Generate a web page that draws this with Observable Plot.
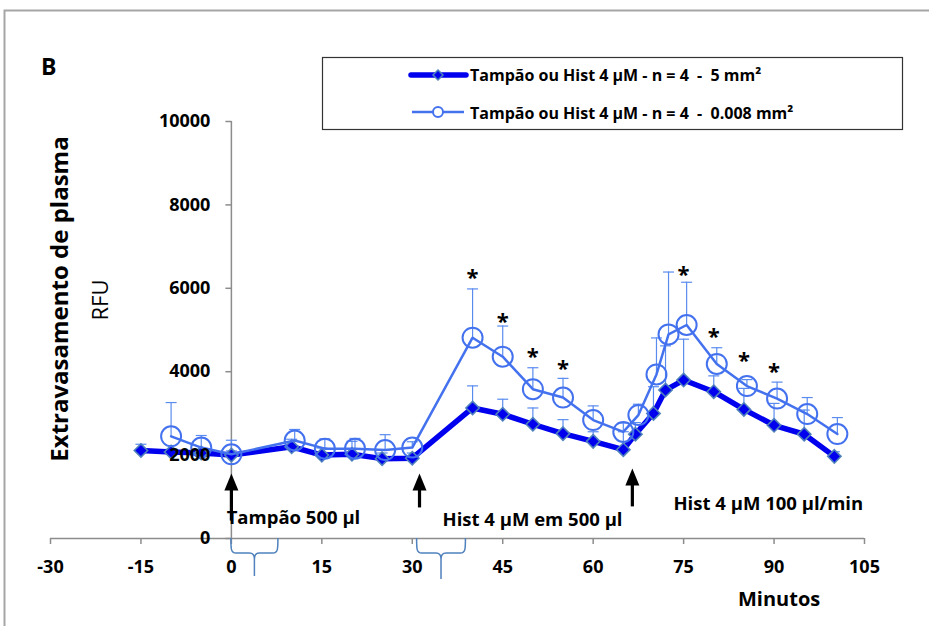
<!DOCTYPE html>
<html><head><meta charset="utf-8">
<script src="https://cdn.jsdelivr.net/npm/d3@7"></script>
<script src="https://cdn.jsdelivr.net/npm/@observablehq/plot@0.6"></script>
<style>
html,body{margin:0;padding:0;background:#fff;}
#chart{position:relative;width:929px;height:626px;overflow:hidden;background:#fff;}
text{white-space:pre;}
</style></head><body><div id="chart"></div>
<script>
// ---- data ----
const seriesNames = ["Tampão ou Hist 4 µM - n = 4  -  5 mm²", "Tampão ou Hist 4 µM - n = 4  -  0.008 mm²"];
const darkMin = [-15,-10,-5,0,10,15,20,25,30,40,45,50,55,60,65,67,70,72,75,80,85,90,95,100];
const darkRFU = [2110,2075,2050,2000,2200,2000,2020,1915,1925,3130,2980,2740,2515,2330,2130,2500,3000,3560,3800,3520,3095,2715,2500,1970];
const darkErr = [2260,2140,2120,2100,2380,2170,2330,2050,2050,3660,3340,3130,2850,2560,2560,2780,3640,4620,4780,3900,3600,3240,3080,2080];
const lightMin = [-10,-5,0,10.5,15.5,20.5,25.5,30,40,45,50,55,60,65,67.5,70.5,72.5,75.5,80.5,85.5,90.5,95.5,100.5];
const lightRFU = [2450,2180,2020,2350,2155,2155,2120,2180,4815,4360,3580,3380,2840,2555,2960,3935,4895,5120,4185,3655,3355,2985,2505];
const lightErr = [3260,2470,2356,2615,2390,2400,2490,2320,5985,5095,4095,3840,3180,2770,3220,4810,6390,6145,4575,3810,3750,3380,2900];
const starMin = [40,45,50,55,75,80,85,90];
const starRFU = [6390,5340,4500,4210,6470,4980,4400,4130];
const xTicks = [-30,-15,0,15,30,45,60,75,90,105];
const yTicks = [0,2000,4000,6000,8000,10000];
const arrowMin = [0,31.2,66.5];
const arrowTipRFU = [1560,1560,1680];
const arrowBaseRFU = [430,745,770];
const noteText = ["Tampão 500 µl","Hist 4 µM em 500 µl","Hist 4 µM 100 µl/min"];
const noteMin = [-0.7,35.1,73.4];
const noteRFU = [345,288,664];
const braceFrom = [0,30.8];
const braceTo = [7.8,38.9];

// ---- tables ----
const dark = darkMin.map((t,i)=>({t, v:darkRFU[i], top:darkErr[i]}));
const light = lightMin.map((t,i)=>({t, v:lightRFU[i], top:lightErr[i]}));
const stars = starMin.map((t,i)=>({t, v:starRFU[i]}));
const arrows = arrowMin.map((t,i)=>({t, tip:arrowTipRFU[i], base:arrowBaseRFU[i]}));

const DARK = "#0000ee", DARK_EDGE = "#4f81bd", LIGHT = "#4472ee", ERR = "#5a8cf0", AXIS = "#8c8c8c";
const FONT = "'Open Sans', sans-serif";

const capSym = {draw(ctx){ ctx.moveTo(-5.5,0); ctx.lineTo(5.5,0); }};
const yTickSym = {draw(ctx){ ctx.moveTo(-6,0); ctx.lineTo(0,0); }};
const headSym = {draw(ctx){ ctx.moveTo(0,0); ctx.lineTo(7,17); ctx.lineTo(-7,17); ctx.closePath(); }};

const plot = Plot.plot({
  width: 929, height: 626,
  marginLeft: 50, marginRight: 65, marginTop: 121, marginBottom: 88,
  x: {domain: [-30,105], axis: null},
  y: {domain: [0,10000], axis: null},
  style: {fontFamily: FONT, background: "transparent", overflow: "visible"},
  marks: [
    Plot.ruleY([0], {stroke: AXIS, strokeWidth: 1.5}),
    Plot.ruleX([0], {y1: 0, y2: 10000, stroke: AXIS, strokeWidth: 1.5}),
    Plot.axisX({ticks: xTicks, tickSize: 6, tickPadding: 16, tickFormat: d => String(d),
      stroke: AXIS, strokeWidth: 1.5, fill: "black", fontSize: 18, fontWeight: "bold", label: null}),
    Plot.dot(yTicks, {x: 0, y: d => d, symbol: yTickSym, r: 3, stroke: AXIS, strokeWidth: 1.5}),
    // error bars
    Plot.ruleX(dark, {x: "t", y1: "v", y2: "top", stroke: ERR, strokeWidth: 1.2}),
    Plot.dot(dark, {x: "t", y: "top", symbol: capSym, r: 3, stroke: ERR, strokeWidth: 1.2}),
    Plot.ruleX(light, {x: "t", y1: "v", y2: "top", stroke: ERR, strokeWidth: 1.2}),
    Plot.dot(light, {x: "t", y: "top", symbol: capSym, r: 3, stroke: ERR, strokeWidth: 1.2}),
    // series
    Plot.line(dark, {x: "t", y: "v", stroke: DARK, strokeWidth: 5.5}),
    Plot.dot(dark, {x: "t", y: "v", symbol: "diamond2", r: 6, fill: DARK, stroke: DARK_EDGE, strokeWidth: 1.6}),
    Plot.line(light, {x: "t", y: "v", stroke: LIGHT, strokeWidth: 2.5}),
    Plot.dot(light, {x: "t", y: "v", r: 10, fill: "none", stroke: LIGHT, strokeWidth: 2}),
    // y tick labels
    Plot.text(yTicks, {x: 0, y: d => d, text: d => String(d), dx: -21, textAnchor: "end",
      fontSize: 18, fontWeight: "bold", fill: "black"}),
    // significance stars
    Plot.text(stars, {x: "t", y: "v", text: () => "*", fontSize: 22, fontWeight: "bold", fill: "black", dy: 6}),
    // arrows
    Plot.link(arrows, {x1: "t", x2: "t", y1: "base", y2: d => d.tip - 300, stroke: "black", strokeWidth: 3.2}),
    Plot.dot(arrows, {x: "t", y: "tip", symbol: headSym, r: 3, fill: "black", stroke: "none"})
  ]
});

const holder = document.getElementById("chart");
holder.appendChild(plot);
const svg = d3.select(plot);
const sx = plot.scale("x"), sy = plot.scale("y");

// frame of the figure
svg.append("path").attr("d", "M4.5,626 V10.5 H929").attr("fill","none").attr("stroke","#a6a6a6").attr("stroke-width",2);

// braces under the x axis
braceFrom.forEach((a,i)=>{
  const x0 = sx.apply(a), x1 = sx.apply(braceTo[i]), m = (x0+x1)/2, y0 = sy.apply(0);
  const yb = y0 + 15, ys = y0 + 38 + i*3;
  const p = `M${x0},${y0} C${x0},${yb-4} ${x0},${yb} ${x0+5},${yb} L${m-5},${yb} C${m-1},${yb} ${m},${yb+2} ${m},${yb+6} L${m},${ys}`
          + ` M${m},${yb+6} C${m},${yb+2} ${m+1},${yb} ${m+5},${yb} L${x1-5},${yb} C${x1},${yb} ${x1},${yb-4} ${x1},${y0}`;
  svg.append("path").attr("d", p).attr("fill","none").attr("stroke","#4f81bd").attr("stroke-width",1.5);
});

// annotations
noteText.forEach((s,i)=>{
  svg.append("text").attr("x", sx.apply(noteMin[i])).attr("y", sy.apply(noteRFU[i])).attr("text-anchor","start")
    .attr("font-family", FONT).attr("font-weight","bold").attr("font-size",18.5).attr("fill","black").text(s);
});

// axis titles and panel letter
svg.append("text").attr("transform","translate(68,299) rotate(-90)").attr("text-anchor","middle")
  .attr("font-family",FONT).attr("font-weight","bold").attr("font-size",24).text("Extravasamento de plasma");
svg.append("text").attr("transform","translate(108,300) rotate(-90)").attr("text-anchor","middle")
  .attr("font-family",FONT).attr("font-size",22).text("RFU");
svg.append("text").attr("x",738).attr("y",606).attr("text-anchor","start").attr("font-family",FONT).attr("font-weight","bold")
  .attr("font-size",20).text("Minutos");
svg.append("text").attr("x",41).attr("y",75).attr("text-anchor","start").attr("font-family",FONT).attr("font-weight","bold")
  .attr("font-size",23).text("B");

// legend
const lg = svg.append("g");
lg.append("rect").attr("x",322.5).attr("y",57.5).attr("width",580).attr("height",72)
  .attr("fill","white").attr("stroke","#333").attr("stroke-width",1.2);
lg.append("line").attr("x1",411).attr("x2",466).attr("y1",75).attr("y2",75)
  .attr("stroke",DARK).attr("stroke-width",5.5).attr("stroke-linecap","round");
lg.append("path").attr("transform","translate(438,75)").attr("d", d3.symbol(d3.symbolDiamond2, 64)())
  .attr("fill",DARK).attr("stroke",DARK_EDGE).attr("stroke-width",1.5);
lg.append("line").attr("x1",412).attr("x2",464).attr("y1",112).attr("y2",112)
  .attr("stroke",LIGHT).attr("stroke-width",2.5);
lg.append("circle").attr("cx",438).attr("cy",112).attr("r",5).attr("fill","white")
  .attr("stroke",LIGHT).attr("stroke-width",2);
seriesNames.forEach((s,i)=>{
  lg.append("text").attr("x",470).attr("y", i===0 ? 80.5 : 118.5).attr("text-anchor","start").attr("font-family",FONT)
    .attr("font-weight","bold").attr("font-size",16).attr("xml:space","preserve").text(s);
});
</script>
</body></html>
